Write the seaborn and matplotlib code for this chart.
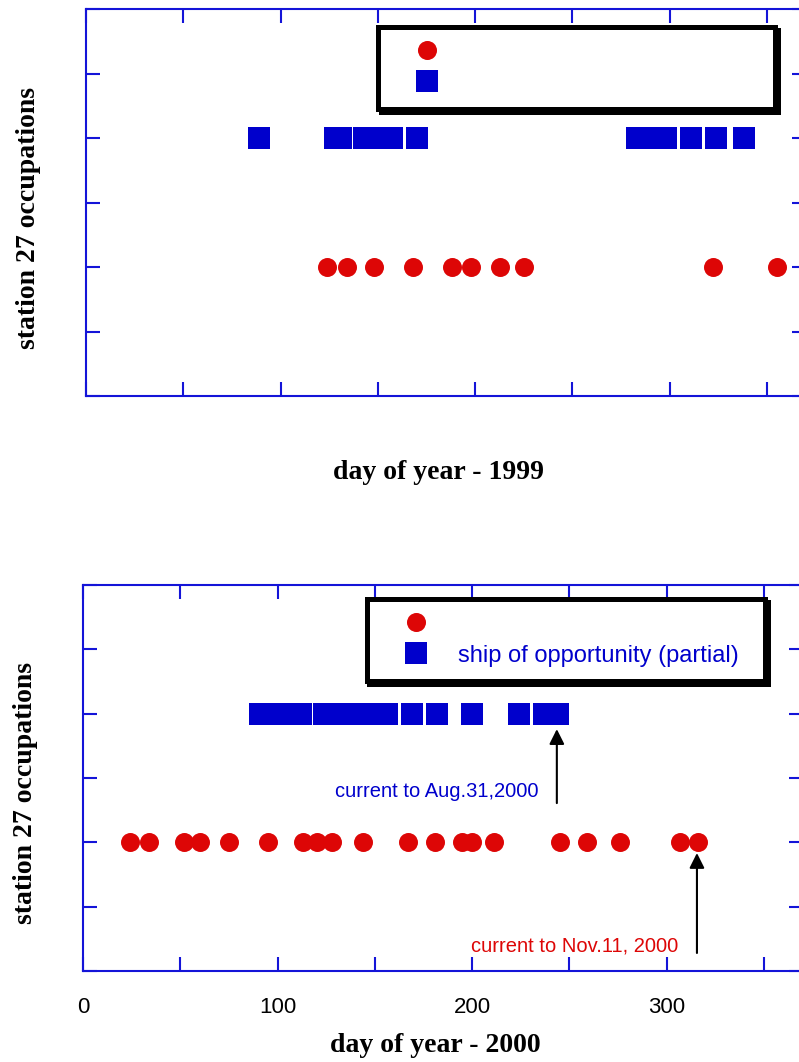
import matplotlib
matplotlib.use("Agg")
import numpy as np
import pandas as pd
import seaborn as sns
import matplotlib.pyplot as plt
from matplotlib.lines import Line2D

# ---------------- data ----------------
series_names = ["current meter", "ship of opportunity (partial)"]
series_levels = [1.0, 2.0]

red_days_1999 = [124, 134, 148, 168, 188, 198, 213, 225, 322, 355]
blue_days_1999 = [89, 128, 131, 143, 147, 157, 170, 283, 290, 298, 311, 324, 338]

red_days_2000 = [24, 34, 52, 60, 75, 95, 113, 120, 128, 144, 167, 181, 195, 200,
                 211, 245, 259, 276, 307, 316]
blue_days_2000 = [91, 97, 105, 112, 124, 132, 141, 149, 156, 169, 182, 200, 224,
                  237, 244]

legend_labels_1999 = ["", ""]
legend_labels_2000 = ["", "ship of opportunity (partial)"]

x_ticks = [0, 50, 100, 150, 200, 250, 300, 350]
x_ticklabels_2000 = ["0", "", "100", "", "200", "", "300", ""]
y_ticks = [0, 0.5, 1.0, 1.5, 2.0, 2.5, 3.0]
xlabels = ["day of year - 1999", "day of year - 2000"]
ylabel_text = "station 27 occupations"

annot_texts = ["current to Aug.31,2000", "current to Nov.11, 2000"]
annot_days = [243.5, 315.5]

# ---------------- style ----------------
RED = "#dd0606"
BLUE = "#0000cc"
AXC = "#1414d8"

sns.set_style("white")
plt.rcParams["font.family"] = ["Liberation Sans", "DejaVu Sans"]

fig = plt.figure(figsize=(7.99, 10.62), dpi=100)
ax_top = fig.add_axes([86 / 799, 1 - 396 / 1062, 720 / 799, 387 / 1062])
ax_bot = fig.add_axes([83 / 799, 1 - 971 / 1062, 720 / 799, 386 / 1062])


def make_df(red, blue):
    return pd.DataFrame({
        "day": list(red) + list(blue),
        "level": [series_levels[0]] * len(red) + [series_levels[1]] * len(blue),
        "series": [series_names[0]] * len(red) + [series_names[1]] * len(blue),
    })


def draw_panel(ax, red, blue, labels, legend_box):
    df = make_df(red, blue)
    sns.scatterplot(data=df[df.series == series_names[1]], x="day", y="level",
                    color=BLUE, marker="s", s=245, linewidth=0, ax=ax,
                    legend=False, zorder=3)
    sns.scatterplot(data=df[df.series == series_names[0]], x="day", y="level",
                    color=RED, marker="o", s=187, linewidth=0, ax=ax,
                    legend=False, zorder=3)
    ax.set_xlim(0, 370)
    ax.set_ylim(0, 3)
    ax.set_xticks(x_ticks)
    ax.set_yticks(y_ticks)
    for sp in ax.spines.values():
        sp.set_visible(True)
        sp.set_color(AXC)
        sp.set_linewidth(1.5)
    ax.tick_params(axis="both", which="both", direction="in", length=10,
                   width=1.5, color=AXC, top=True, right=True, bottom=True,
                   left=True, labelleft=False, labelright=False, labeltop=False)
    ax.set_ylabel(ylabel_text, family=["Liberation Serif", "DejaVu Serif"],
                  fontsize=20, fontweight="bold", color="black")
    ax.yaxis.set_label_coords(-0.062, 0.461)

    handles = [
        Line2D([], [], marker="o", color=RED, ls="", markersize=13.7,
               markeredgewidth=0),
        Line2D([], [], marker="s", color=BLUE, ls="", markersize=15.6,
               markeredgewidth=0),
    ]
    x0, y0, w, h = legend_box
    leg = ax.legend(handles, labels, loc="upper left",
                    bbox_to_anchor=(x0, y0, w, h), mode="expand",
                    borderaxespad=0, frameon=True, fancybox=False,
                    shadow={"color": "black", "alpha": 1},
                    fontsize=17, handlelength=2.9, handletextpad=0.36,
                    borderpad=0.62, labelspacing=0.38, labelcolor=BLUE)
    leg.get_frame().set_edgecolor("black")
    leg.get_frame().set_linewidth(3.6)
    leg.set_zorder(5)


draw_panel(ax_top, red_days_1999, blue_days_1999, legend_labels_1999,
           (0.4056, 0.747, 0.957 - 0.4056, 0.9535 - 0.747))
draw_panel(ax_bot, red_days_2000, blue_days_2000, legend_labels_2000,
           (0.394, 0.746, 0.947 - 0.394, 0.964 - 0.746))

# x axis labels / tick labels
ax_top.tick_params(labelbottom=False)
ax_bot.set_xticklabels(x_ticklabels_2000)
ax_bot.tick_params(axis="x", labelsize=16, labelcolor="black", pad=19)

for ax, lab in zip([ax_top, ax_bot], xlabels):
    ax.set_xlabel(lab, family=["Liberation Serif", "DejaVu Serif"], fontsize=20,
                  fontweight="bold", color="black")
ax_top.xaxis.set_label_coords(0.49, -0.165)
ax_bot.xaxis.set_label_coords(0.49, -0.16)

# annotations with arrows (bottom panel)
arrow_style = "-|>,head_length=0.5,head_width=0.25"
ax_bot.annotate("", xy=(annot_days[0], 1.88), xytext=(annot_days[0], 1.305),
                arrowprops=dict(arrowstyle=arrow_style, mutation_scale=18,
                                lw=1.5, color="black", shrinkA=0, shrinkB=0),
                zorder=4)
ax_bot.annotate("", xy=(annot_days[1], 0.917), xytext=(annot_days[1], 0.14),
                arrowprops=dict(arrowstyle=arrow_style, mutation_scale=18,
                                lw=1.5, color="black", shrinkA=0, shrinkB=0),
                zorder=4)
ax_bot.text(234, 1.352, annot_texts[0], color=BLUE, fontsize=14.5,
            ha="right", va="baseline")
ax_bot.text(306, 0.155, annot_texts[1], color=RED, fontsize=14.5,
            ha="right", va="baseline")

fig.savefig("out.png", dpi=100)
